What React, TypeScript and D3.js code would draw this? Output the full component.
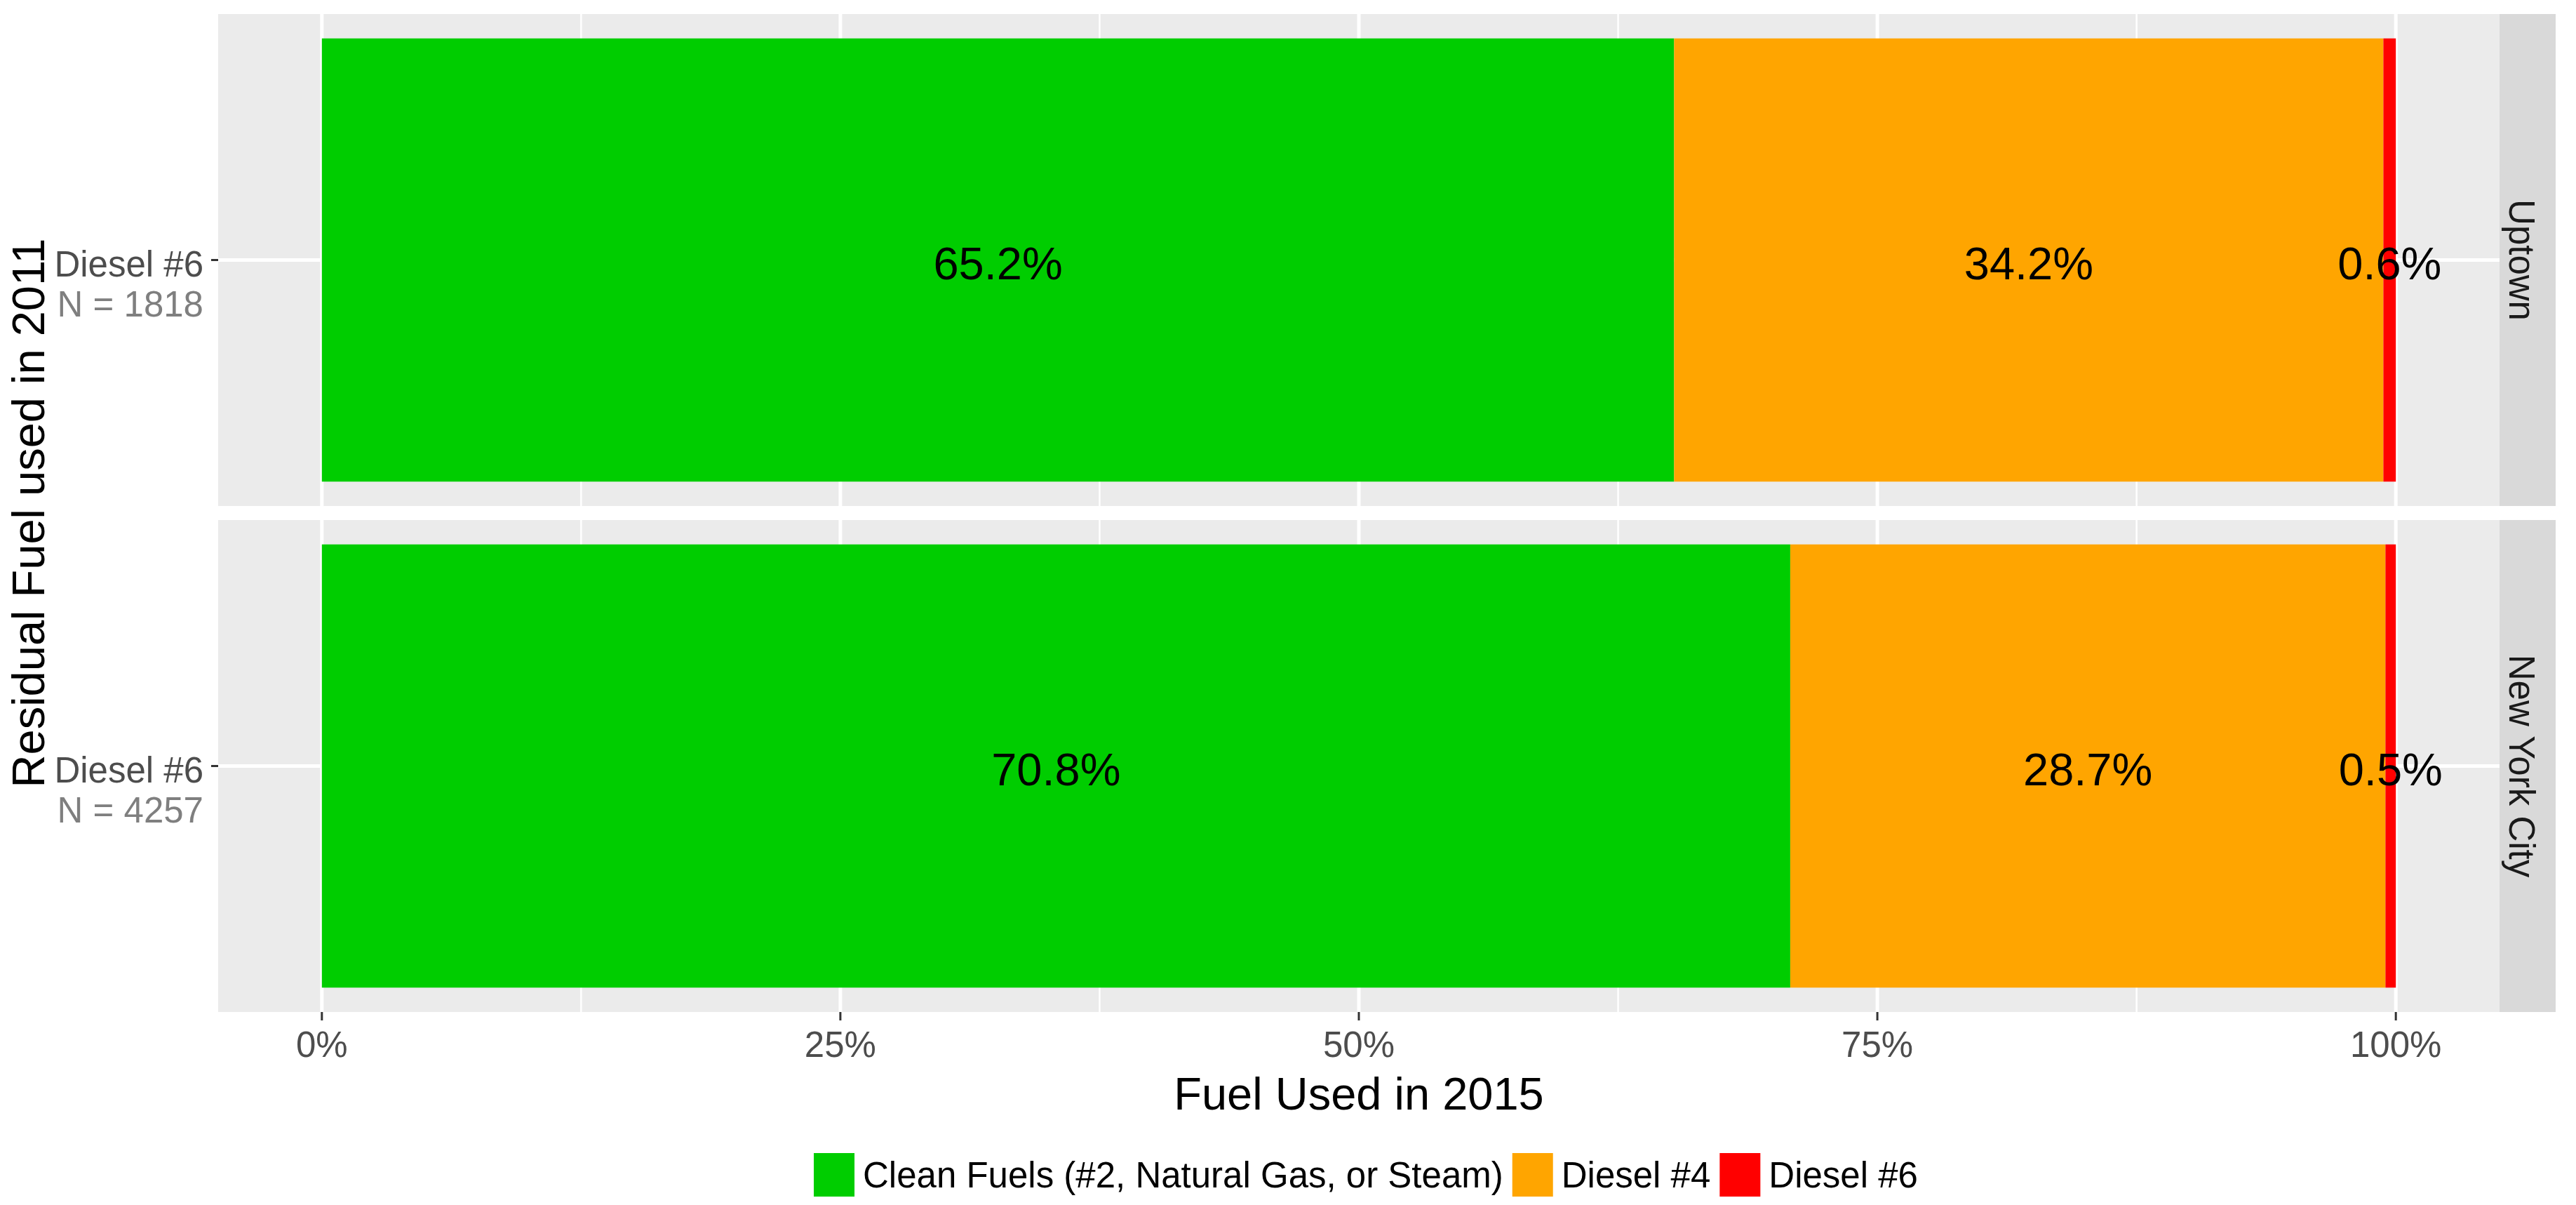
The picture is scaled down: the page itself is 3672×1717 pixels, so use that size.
import React, { useEffect, useMemo } from "react";
import * as d3 from "d3";

// regions (facets), top to bottom
const regions: string[] = ["Uptown", "New York City"];
const regionN: number[] = [1818, 4257];
const category: string = "Diesel #6";

// fuel used in 2015, share in percent
const fuels: string[] = ["Clean Fuels (#2, Natural Gas, or Steam)", "Diesel #4", "Diesel #6"];
const fuelColors: string[] = ["#00CD00", "#FFA500", "#FF0000"];
const cleanShare: number[] = [65.2, 70.8];
const diesel4Share: number[] = [34.2, 28.7];
const diesel6Share: number[] = [0.6, 0.5];

const xTicks: number[] = [0, 0.25, 0.5, 0.75, 1];
const xMinor: number[] = [0.125, 0.375, 0.625, 0.875];

const W = 3672;
const H = 1717;
const FONT = "'Liberation Sans', Arial, Helvetica, sans-serif";

function measure(text: string, size: number) {
  const c = document.createElement("canvas").getContext("2d");
  if (!c) return text.length * size * 0.5;
  c.font = `${size}px 'Liberation Sans', Arial, sans-serif`;
  return c.measureText(text).width;
}

function App() {
  useEffect(() => {
    document.body.style.margin = "0";
  }, []);

  const panelLeft = 311;
  const panelRight = 3563;
  const stripW = 80;
  const panelTop = 20;
  const panelH = 701;
  const panelGap = 20;

  const x = d3.scaleLinear().domain([-0.05, 1.05]).range([panelLeft, panelRight]);
  const fmt = d3.format(".0%");

  const rows = regions.map((r, i) => {
    const vals = [cleanShare[i], diesel4Share[i], diesel6Share[i]];
    const stack = d3.cumsum(vals);
    const segs = vals.map((v, k) => ({
      fuel: fuels[k],
      color: fuelColors[k],
      v,
      x0: (stack[k] - v) / 100,
      x1: stack[k] / 100,
    }));
    const top = panelTop + i * (panelH + panelGap);
    const y = d3
      .scaleBand<string>()
      .domain([category])
      .range([top, top + panelH])
      .paddingInner(0)
      .paddingOuter(0.055);
    return { region: r, n: regionN[i], segs, top, y };
  });

  const bottom = rows[rows.length - 1].top + panelH;
  const plotMid = (panelTop + bottom) / 2;
  const xMid = (panelLeft + panelRight) / 2;

  // legend layout
  const legendSize = 51;
  const keyW = 58;
  const keyH = 62;
  const legend = useMemo(() => {
    const widths = fuels.map((f) => measure(f, legendSize));
    const total = widths.reduce((a, w) => a + keyW + 12 + w, 0) + 13 * (fuels.length - 1);
    let cx = xMid + 10 - total / 2;
    return fuels.map((f, k) => {
      const item = { f, color: fuelColors[k], x: cx, tw: widths[k] };
      cx += keyW + 12 + widths[k] + 13;
      return item;
    });
  }, []);

  return (
    <svg width={W} height={H} style={{ display: "block", fontFamily: FONT }}>
      <rect width={W} height={H} fill="#ffffff" />
      {rows.map((row) => {
        const yc = (row.y(category) as number) + row.y.bandwidth() / 2;
        return (
          <g key={row.region}>
            <rect x={panelLeft} y={row.top} width={panelRight - panelLeft} height={panelH} fill="#EBEBEB" />
            {xMinor.map((t) => (
              <line key={"m" + t} x1={x(t)} x2={x(t)} y1={row.top} y2={row.top + panelH} stroke="#fff" strokeWidth={2.5} />
            ))}
            {xTicks.map((t) => (
              <line key={"M" + t} x1={x(t)} x2={x(t)} y1={row.top} y2={row.top + panelH} stroke="#fff" strokeWidth={5} />
            ))}
            <line x1={panelLeft} x2={panelRight} y1={yc} y2={yc} stroke="#fff" strokeWidth={5} />
            {row.segs.map((s) => (
              <rect
                key={s.fuel}
                x={x(s.x0)}
                y={row.y(category)}
                width={x(s.x1) - x(s.x0)}
                height={row.y.bandwidth()}
                fill={s.color}
              />
            ))}
            {row.segs.map((s) => (
              <text
                key={"l" + s.fuel}
                x={x((s.x0 + s.x1) / 2)}
                y={yc + 27}
                textAnchor="middle"
                fontSize={65}
                fill="#000"
              >
                {s.v.toFixed(1) + "%"}
              </text>
            ))}
            {/* strip */}
            <rect x={panelRight} y={row.top} width={stripW} height={panelH} fill="#D9D9D9" />
            <text
              transform={`translate(${panelRight + stripW / 2 - 8},${row.top + panelH / 2}) rotate(90)`}
              textAnchor="middle"
              dy={18}
              fontSize={51}
              fill="#1A1A1A"
            >
              {row.region}
            </text>
            {/* y axis */}
            <line x1={panelLeft - 10} x2={panelLeft} y1={yc} y2={yc} stroke="#333333" strokeWidth={3} />
            <text x={290} y={yc + 23} textAnchor="end" fontSize={51} fill="#4D4D4D">
              {category}
            </text>
            <text x={290} y={yc + 80} textAnchor="end" fontSize={51} fill="#7F7F7F">
              {"N = " + row.n}
            </text>
          </g>
        );
      })}

      {/* x axis */}
      {xTicks.map((t) => (
        <g key={"t" + t}>
          <line x1={x(t)} x2={x(t)} y1={bottom} y2={bottom + 12} stroke="#333333" strokeWidth={3} />
          <text x={x(t)} y={bottom + 64} textAnchor="middle" fontSize={51} fill="#4D4D4D">
            {fmt(t)}
          </text>
        </g>
      ))}
      <text x={xMid} y={1581} textAnchor="middle" fontSize={65} fill="#000">
        Fuel Used in 2015
      </text>
      <text transform={`translate(63,${plotMid}) rotate(-90)`} textAnchor="middle" fontSize={65} fill="#000">
        Residual Fuel used in 2011
      </text>

      {/* legend */}
      {legend.map((it) => (
        <g key={it.f}>
          <rect x={it.x} y={1643} width={keyW} height={keyH} fill={it.color} />
          <text x={it.x + keyW + 12} y={1692} fontSize={legendSize} fill="#000">
            {it.f}
          </text>
        </g>
      ))}
    </svg>
  );
}

export default App;
